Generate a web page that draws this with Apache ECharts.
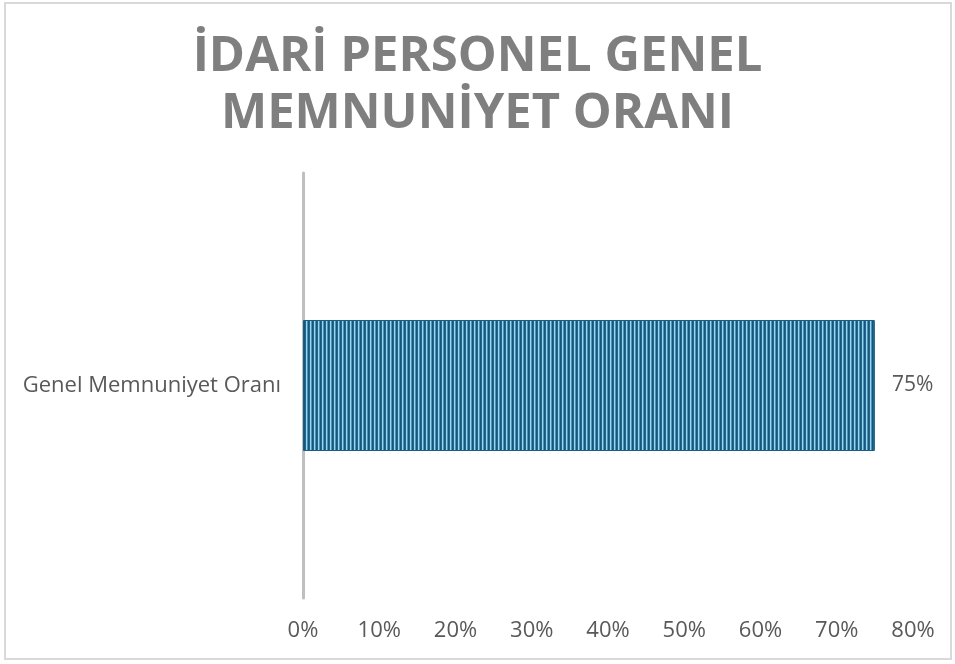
<!DOCTYPE html>
<html>
<head>
<meta charset="utf-8">
<script src="https://cdn.jsdelivr.net/npm/echarts@6/dist/echarts.min.js"></script>
<style>
  html, body { margin: 0; padding: 0; background: #fff; }
  #chart { width: 955px; height: 664px; }
</style>
</head>
<body>
<div id="chart"></div>
<script>
// 数据
const categories = ['Genel Memnuniyet Oranı']
const values = [0.75]
const xTicks = [0, 0.1, 0.2, 0.3, 0.4, 0.5, 0.6, 0.7, 0.8]

// 条纹填充
function stripes() {
  const c = document.createElement('canvas')
  c.width = 4
  c.height = 4
  const ctx = c.getContext('2d')
  const cols = ['#17557a', '#1f6890', '#9fd3ea', '#4a93b9']
  cols.forEach(function (col, i) {
    ctx.fillStyle = col
    ctx.fillRect(i, 0, 1, 4)
  })
  return c
}

const labelFont = 'Open Sans'

const myChart = echarts.init(document.getElementById('chart'))
myChart.setOption({
  animation: false,
  title: {
    text: 'İDARİ PERSONEL GENEL\nMEMNUNİYET ORANI',
    left: 'center',
    top: 24,
    textStyle: {
      fontFamily: 'Open Sans',
      fontWeight: 'bold',
      fontSize: 49,
      lineHeight: 57,
      color: '#7f7f7f'
    }
  },
  graphic: [{
    type: 'rect',
    shape: { x: 5, y: 3, width: 946, height: 656 },
    style: { fill: 'none', stroke: '#d9d9d9', lineWidth: 2 },
    silent: true
  }],
  grid: { left: 303, right: 42, top: 173, bottom: 66 },
  xAxis: {
    type: 'value',
    min: 0,
    max: 0.8,
    interval: 0.1,
    axisLine: { show: false },
    axisTick: { show: false },
    splitLine: { show: false },
    axisLabel: {
      margin: 22,
      fontFamily: labelFont,
      fontSize: 22,
      color: '#595959',
      formatter: function (v) { return Math.round(v * 100) + '%' }
    }
  },
  yAxis: {
    type: 'category',
    data: categories,
    axisLine: { show: true, lineStyle: { color: '#bfbfbf', width: 3 } },
    axisTick: { show: false },
    axisLabel: {
      margin: 22,
      fontFamily: labelFont,
      fontSize: 22,
      color: '#595959'
    }
  },
  series: [{
    type: 'bar',
    data: values,
    barWidth: 131,
    itemStyle: {
      color: { image: stripes(), repeat: 'repeat' },
      borderColor: '#1b5d84',
      borderWidth: 1
    },
    label: {
      show: true,
      position: 'right',
      distance: 17,
      fontFamily: labelFont,
      fontSize: 21,
      color: '#595959',
      formatter: function (p) { return Math.round(p.value * 100) + '%' }
    }
  }]
})
</script>
</body>
</html>
